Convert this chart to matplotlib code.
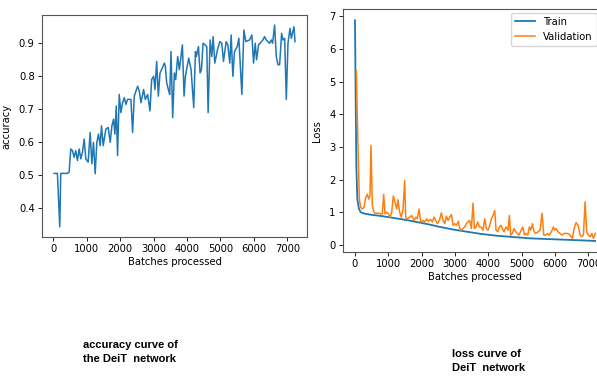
import matplotlib
matplotlib.use('Agg')
from matplotlib import pyplot as plt

# accuracy curve (left panel)
acc_batches = [20, 120, 190, 220, 420, 470, 520, 570, 620, 670, 720, 770, 820, 870,
               920, 970, 1040, 1100, 1150, 1200, 1250, 1300, 1350, 1400, 1440, 1490,
               1570, 1640, 1700, 1750, 1800, 1840, 1880, 1920, 1970, 2020, 2070, 2120,
               2170, 2220, 2320, 2370, 2420, 2520, 2570, 2620, 2700, 2750, 2820, 2890,
               2940, 3000, 3040, 3090, 3140, 3190, 3260, 3320, 3350, 3390, 3440, 3480,
               3520, 3570, 3620, 3660, 3720, 3770, 3860, 3910, 3950, 4050, 4120, 4200,
               4250, 4280, 4340, 4390, 4430, 4480, 4540, 4590, 4630, 4690, 4740, 4780,
               4830, 4910, 4980, 5040, 5090, 5170, 5220, 5280, 5320, 5370, 5420, 5500,
               5550, 5640, 5700, 5760, 5870, 5940, 5990, 6040, 6080, 6140, 6270, 6320,
               6370, 6470, 6520, 6560, 6620, 6670, 6720, 6770, 6830, 6870, 6920, 6970,
               7020, 7080, 7120, 7200, 7230]
accuracy = [0.506, 0.506, 0.344, 0.506, 0.506, 0.51, 0.58, 0.575, 0.555, 0.575, 0.545,
            0.58, 0.55, 0.57, 0.61, 0.55, 0.54, 0.63, 0.535, 0.6, 0.505, 0.6, 0.625,
            0.59, 0.65, 0.59, 0.64, 0.645, 0.6, 0.65, 0.67, 0.625, 0.71, 0.56, 0.745,
            0.69, 0.72, 0.735, 0.715, 0.73, 0.73, 0.63, 0.74, 0.77, 0.755, 0.72, 0.76,
            0.73, 0.745, 0.695, 0.79, 0.80, 0.76, 0.845, 0.74, 0.81, 0.825, 0.84, 0.83,
            0.78, 0.76, 0.745, 0.875, 0.675, 0.81, 0.79, 0.86, 0.82, 0.895, 0.74, 0.8,
            0.855, 0.82, 0.705, 0.875, 0.86, 0.89, 0.81, 0.82, 0.9, 0.895, 0.89, 0.69,
            0.91, 0.86, 0.92, 0.84, 0.88, 0.905, 0.9, 0.845, 0.905, 0.895, 0.84, 0.925,
            0.8, 0.875, 0.89, 0.915, 0.745, 0.94, 0.905, 0.91, 0.925, 0.84, 0.9, 0.85,
            0.895, 0.91, 0.92, 0.91, 0.9, 0.91, 0.9, 0.955, 0.86, 0.835, 0.835, 0.93,
            0.91, 0.915, 0.73, 0.9, 0.945, 0.915, 0.95, 0.905]

# loss curves (right panel)
train_batches = [0, 20, 40, 70, 120, 170, 270, 500, 750, 1000, 1250, 1500, 1750, 2000,
                 2250, 2500, 2750, 3000, 3250, 3500, 3750, 4000, 4250, 4500, 4750, 5000,
                 5250, 5500, 5750, 6000, 6250, 6500, 6750, 7000, 7200]
train_loss = [6.88, 4.5, 2.4, 1.4, 1.1, 1.0, 0.96, 0.92, 0.89, 0.85, 0.81, 0.77, 0.72,
              0.67, 0.62, 0.56, 0.51, 0.46, 0.42, 0.38, 0.34, 0.31, 0.28, 0.26, 0.24,
              0.22, 0.2, 0.19, 0.18, 0.17, 0.16, 0.15, 0.14, 0.13, 0.12]

val_batches = [40, 90, 130, 170, 220, 270, 320, 370, 410, 450, 480, 520, 570, 620, 670,
               720, 770, 820, 860, 900, 950, 1000, 1050, 1100, 1150, 1200, 1250, 1290,
               1340, 1390, 1440, 1490, 1520, 1570, 1640, 1700, 1770, 1830, 1870, 1920,
               1970, 2040, 2090, 2150, 2200, 2270, 2320, 2370, 2420, 2470, 2530, 2590,
               2640, 2690, 2740, 2790, 2840, 2890, 2940, 2990, 3040, 3100, 3140, 3190,
               3240, 3290, 3340, 3390, 3440, 3490, 3540, 3580, 3630, 3680, 3730, 3780,
               3840, 3890, 3940, 3990, 4040, 4090, 4140, 4190, 4230, 4280, 4330, 4380,
               4420, 4470, 4530, 4590, 4630, 4670, 4720, 4770, 4820, 4870, 4920, 4980,
               5030, 5080, 5130, 5180, 5230, 5270, 5320, 5370, 5420, 5490, 5550, 5610,
               5660, 5710, 5770, 5820, 5890, 5950, 5990, 6030, 6090, 6150, 6210, 6270,
               6330, 6390, 6450, 6520, 6570, 6630, 6690, 6750, 6800, 6850, 6900, 6950,
               7000, 7050, 7100, 7150, 7210]
val_loss = [5.33, 3.0, 1.4, 1.15, 1.1, 1.15, 1.45, 1.55, 1.4, 1.5, 3.05, 1.2, 1.0, 0.95,
            0.98, 0.97, 0.95, 0.95, 1.55, 0.95, 1.0, 0.95, 0.85, 1.0, 1.5, 1.3, 1.1, 1.38,
            1.0, 0.85, 1.1, 1.98, 0.85, 0.8, 0.85, 0.9, 0.75, 0.85, 0.8, 1.1, 0.7, 0.75,
            0.7, 0.8, 0.72, 0.78, 0.7, 0.85, 0.75, 0.65, 0.75, 0.98, 0.75, 0.65, 0.88,
            0.75, 0.85, 0.93, 0.6, 0.65, 0.6, 0.72, 0.5, 0.45, 0.5, 0.55, 0.65, 0.7, 0.75,
            0.5, 1.28, 0.5, 0.55, 0.7, 0.55, 0.55, 0.45, 0.8, 0.5, 0.45, 0.6, 0.8, 0.9,
            1.05, 0.45, 0.4, 0.55, 0.6, 0.5, 0.4, 0.55, 0.45, 0.9, 0.3, 0.35, 0.5, 0.4,
            0.35, 0.3, 0.45, 0.55, 0.3, 0.35, 0.3, 0.55, 0.45, 0.65, 0.4, 0.35, 0.4, 0.45,
            0.97, 0.3, 0.3, 0.35, 0.3, 0.4, 0.55, 0.45, 0.5, 0.4, 0.35, 0.3, 0.35, 0.35,
            0.35, 0.3, 0.2, 0.5, 0.68, 0.6, 0.3, 0.25, 0.3, 1.32, 0.4, 0.3, 0.25, 0.35,
            0.2, 0.35]

plt.rcParams['font.family'] = ['DejaVu Sans']
plt.rcParams['font.size'] = 7.2
plt.rcParams['axes.linewidth'] = 0.8
plt.rcParams['xtick.major.width'] = 0.6
plt.rcParams['ytick.major.width'] = 0.6
plt.rcParams['xtick.major.size'] = 2.8
plt.rcParams['ytick.major.size'] = 2.8
plt.rcParams['xtick.major.pad'] = 2.5
plt.rcParams['ytick.major.pad'] = 2.5

fig = plt.figure(figsize=(5.97, 3.76), dpi=100)

ax1 = fig.add_axes([0.0704, 0.3697, 0.4439, 0.5904])
ax1.plot(acc_batches, accuracy, color='#1f77b4', lw=1.1)
ax1.set_xticks(range(0, 8000, 1000))
ax1.set_yticks([0.4, 0.5, 0.6, 0.7, 0.8, 0.9])
ax1.set_xlabel('Batches processed', labelpad=2)
ax1.set_ylabel('accuracy', labelpad=5)

ax2 = fig.add_axes([0.5745, 0.3298, 0.443, 0.6455])
ax2.plot(train_batches, train_loss, color='#1f77b4', lw=1.3, label='Train')
ax2.plot(val_batches, val_loss, color='#ff7f0e', lw=1.1, label='Validation')
ax2.set_xticks(range(0, 8000, 1000))
ax2.set_yticks(range(0, 8))
ax2.set_xlabel('Batches processed', labelpad=2)
ax2.set_ylabel('Loss', labelpad=5)
ax2.legend(loc='upper right', bbox_to_anchor=(0.96, 0.985), borderaxespad=0,
           fontsize=7.2)

for ax in (ax1, ax2):
    for sp in ax.spines.values():
        sp.set_color('#555555')

cap = dict(family=['Liberation Sans', 'DejaVu Sans'], fontweight='bold',
           fontsize=8.0, ha='left', va='center', linespacing=1.4)
fig.text(83 / 597, 1 - 352 / 376, 'accuracy curve of\nthe DeiT  network', **cap)
fig.text(452 / 597, 1 - 361 / 376, 'loss curve of\nDeiT  network', **cap)

fig.savefig('out.png', dpi=100)
